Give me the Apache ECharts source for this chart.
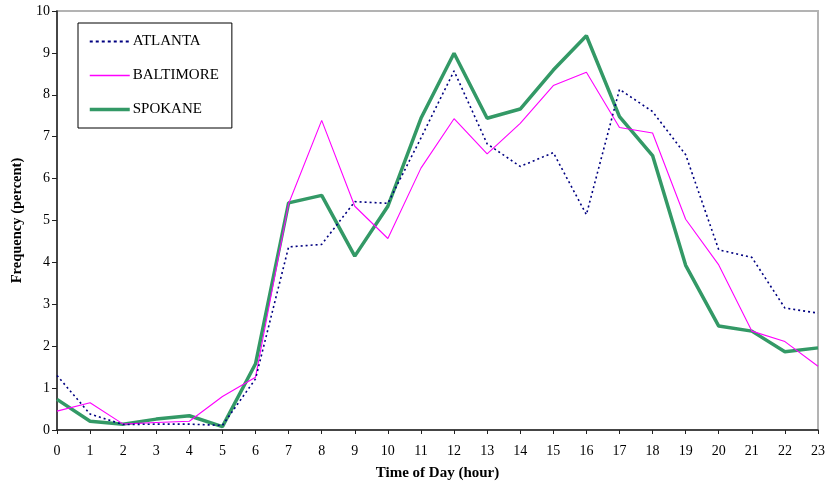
<!DOCTYPE html>
<html>
<head>
<meta charset="utf-8">
<title>Frequency by Time of Day</title>
<script src="https://cdn.jsdelivr.net/npm/echarts@6/dist/echarts.min.js"></script>
<style>
  html, body { margin: 0; padding: 0; background: #ffffff; }
  #chart { width: 828px; height: 486px; }
</style>
</head>
<body>
<div id="chart"></div>
<script>
// Hour of day (0-23)
const hours = ['0','1','2','3','4','5','6','7','8','9','10','11','12','13','14','15','16','17','18','19','20','21','22','23'];

// Share of events in each hour (percent)
const atlanta = [1.30, 0.38, 0.13, 0.14, 0.14, 0.11, 1.22, 4.37, 4.43, 5.45, 5.41, 6.97, 8.57, 6.83, 6.29, 6.62, 5.14, 8.13, 7.60, 6.57, 4.30, 4.12, 2.91, 2.79];
const baltimore = [0.45, 0.65, 0.14, 0.18, 0.21, 0.80, 1.26, 5.40, 7.39, 5.34, 4.57, 6.25, 7.43, 6.59, 7.32, 8.22, 8.54, 7.22, 7.09, 5.03, 3.94, 2.36, 2.11, 1.52];
const spokane = [0.73, 0.21, 0.14, 0.26, 0.34, 0.08, 1.58, 5.42, 5.60, 4.15, 5.34, 7.44, 8.99, 7.44, 7.66, 8.59, 9.41, 7.48, 6.55, 3.93, 2.48, 2.36, 1.87, 1.96];

const serif = '"Liberation Serif", "DejaVu Serif", serif';

const chart = echarts.init(document.getElementById('chart'), null, { renderer: 'canvas' });

// legend swatches show the line only, no marker
const hiddenMarker = { opacity: 0, borderWidth: 0 };

chart.setOption({
  animation: false,
  backgroundColor: '#ffffff',
  grid: {
    left: 57, right: 9, top: 11, bottom: 54.5,
    show: true,
    borderColor: '#b3b3b3',
    borderWidth: 2,
    backgroundColor: 'transparent'
  },
  legend: {
    orient: 'vertical',
    left: 78,
    top: 23,
    padding: [11, 13, 11, 10],
    itemGap: 19,
    itemWidth: 40,
    itemHeight: 14,
    borderColor: '#000000',
    borderWidth: 1,
    backgroundColor: '#ffffff',
    textStyle: { fontFamily: serif, fontSize: 15, color: '#000000', padding: [0, 0, 0, -2] },
    data: [
      { name: 'ATLANTA', itemStyle: hiddenMarker, lineStyle: { color: '#000080', width: 2, type: [3, 3] } },
      { name: 'BALTIMORE', itemStyle: hiddenMarker, lineStyle: { color: '#ff00ff', width: 1.5, type: 'solid' } },
      { name: 'SPOKANE', itemStyle: hiddenMarker, lineStyle: { color: '#339966', width: 3.5, type: 'solid' } }
    ]
  },
  xAxis: {
    type: 'category',
    data: hours,
    boundaryGap: false,
    name: 'Time of Day (hour)',
    nameLocation: 'middle',
    nameGap: 36,
    nameTextStyle: { fontFamily: serif, fontSize: 15, fontWeight: 'bold', color: '#000000' },
    axisLine: { lineStyle: { color: '#222222', width: 1.5 } },
    axisTick: { show: true, length: 4, lineStyle: { color: '#222222', width: 1 } },
    axisLabel: { fontFamily: serif, fontSize: 14, color: '#000000', margin: 14, interval: 0 },
    splitLine: { show: false }
  },
  yAxis: {
    type: 'value',
    min: 0,
    max: 10,
    interval: 1,
    name: 'Frequency (percent)',
    nameLocation: 'middle',
    nameGap: 32,
    nameRotate: 90,
    nameTextStyle: { fontFamily: serif, fontSize: 14.5, fontWeight: 'bold', color: '#000000' },
    axisLine: { show: true, lineStyle: { color: '#222222', width: 1.5 } },
    axisTick: { show: true, length: 5, lineStyle: { color: '#222222', width: 1 } },
    axisLabel: { fontFamily: serif, fontSize: 14, color: '#000000', margin: 7 },
    splitLine: { show: false }
  },
  series: [
    {
      name: 'ATLANTA',
      type: 'line',
      data: atlanta,
      symbol: 'none',
      z: 3,
      itemStyle: { color: '#000080' },
      lineStyle: { color: '#000080', width: 1.6, type: [2, 3] }
    },
    {
      name: 'BALTIMORE',
      type: 'line',
      data: baltimore,
      symbol: 'none',
      z: 2,
      itemStyle: { color: '#ff00ff' },
      lineStyle: { color: '#ff00ff', width: 1.1 }
    },
    {
      name: 'SPOKANE',
      type: 'line',
      data: spokane,
      symbol: 'none',
      z: 1,
      itemStyle: { color: '#339966' },
      lineStyle: { color: '#339966', width: 3.5 }
    }
  ]
});
</script>
</body>
</html>
